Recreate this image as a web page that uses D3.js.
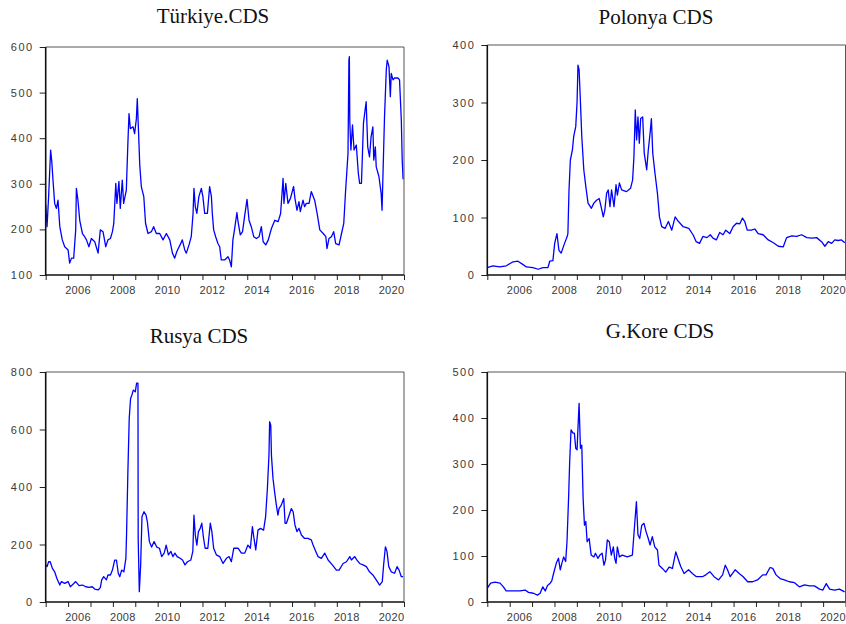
<!DOCTYPE html>
<html>
<head>
<meta charset="utf-8">
<script src="https://cdn.jsdelivr.net/npm/d3@7"></script>
<style>
  body { margin: 0; background: #fff; }
  .title { font-family: "Liberation Serif", "Times New Roman", serif; font-size: 21px; fill: #111; }
  .tick text { font-family: "Liberation Sans", Arial, sans-serif; font-size: 11px; fill: #3a3a3a; }
  .yaxis .tick text { letter-spacing: 1.5px; }
  .xlab .tick text { letter-spacing: 0.3px; }
  .tick line { stroke: #222; }
</style>
</head>
<body>
<svg id="chart" width="846" height="624"></svg>
<script>
// decimal year, CDS value (bps)
const turkiye = [
  [2005.0,254],[2005.06,206],[2005.13,272],[2005.22,374],[2005.27,350],[2005.33,305],[2005.40,257],[2005.48,246],
  [2005.55,264],[2005.63,206],[2005.74,177],[2005.85,162],[2006.0,155],[2006.07,126],[2006.15,137],[2006.25,137],
  [2006.34,199],[2006.37,290],[2006.44,264],[2006.52,220],[2006.64,191],[2006.74,184],[2006.82,177],[2006.93,162],
  [2007.04,180],[2007.19,173],[2007.34,148],[2007.44,199],[2007.56,195],[2007.68,162],[2007.78,177],[2007.89,180],
  [2007.98,195],[2008.04,213],[2008.13,301],[2008.18,257],[2008.27,305],[2008.33,246],[2008.42,308],[2008.48,257],
  [2008.60,286],[2008.67,389],[2008.72,454],[2008.78,421],[2008.90,425],[2008.97,410],[2009.05,443],[2009.09,487],
  [2009.15,408],[2009.20,341],[2009.27,294],[2009.38,272],[2009.46,213],[2009.57,191],[2009.72,195],[2009.82,206],
  [2009.94,191],[2010.09,191],[2010.24,177],[2010.39,191],[2010.54,177],[2010.66,148],[2010.76,137],[2010.86,152],
  [2011.0,166],[2011.10,177],[2011.21,155],[2011.28,148],[2011.40,166],[2011.50,184],[2011.58,235],[2011.62,290],
  [2011.68,250],[2011.75,235],[2011.84,272],[2011.95,290],[2012.02,272],[2012.10,235],[2012.22,235],[2012.32,294],
  [2012.40,272],[2012.44,235],[2012.50,199],[2012.59,184],[2012.69,169],[2012.77,162],[2012.84,133],[2012.99,133],
  [2013.14,140],[2013.21,133],[2013.29,118],[2013.36,177],[2013.43,199],[2013.54,237],[2013.58,220],[2013.69,188],
  [2013.79,195],[2013.88,228],[2013.99,266],[2014.08,220],[2014.18,206],[2014.29,184],[2014.41,180],[2014.53,184],
  [2014.63,206],[2014.71,173],[2014.83,166],[2014.94,177],[2015.08,202],[2015.23,220],[2015.38,217],[2015.49,235],
  [2015.60,312],[2015.64,257],[2015.72,301],[2015.82,257],[2015.93,268],[2016.07,294],[2016.13,268],[2016.22,242],
  [2016.31,261],[2016.37,239],[2016.49,264],[2016.56,250],[2016.64,257],[2016.76,257],[2016.86,283],[2017.01,264],
  [2017.12,235],[2017.24,199],[2017.39,191],[2017.51,184],[2017.56,158],[2017.65,180],[2017.76,184],[2017.86,195],
  [2017.95,169],[2018.10,166],[2018.21,191],[2018.31,213],[2018.39,283],[2018.50,367],[2018.54,571],[2018.56,579],
  [2018.58,436],[2018.63,374],[2018.70,429],[2018.77,374],[2018.87,385],[2018.96,323],[2019.02,301],[2019.10,301],
  [2019.19,433],[2019.28,469],[2019.31,480],[2019.38,381],[2019.46,359],[2019.53,403],[2019.61,425],[2019.65,352],
  [2019.72,381],[2019.76,337],[2019.88,316],[2019.98,279],[2020.02,242],[2020.07,337],[2020.13,447],[2020.21,550],
  [2020.25,571],[2020.33,557],[2020.39,491],[2020.43,542],[2020.51,528],[2020.58,532],[2020.73,532],[2020.80,528],
  [2020.88,440],[2020.92,352],[2020.96,310]
];

const polonya = [
  [2005.0,13],[2005.25,16],[2005.55,14],[2005.85,16],[2006.15,23],[2006.37,24],[2006.6,18],[2006.75,14],
  [2007.04,13],[2007.27,10],[2007.49,13],[2007.71,13],[2007.79,24],[2007.93,25],[2008.01,55],[2008.11,72],
  [2008.2,43],[2008.3,38],[2008.45,55],[2008.56,66],[2008.6,72],[2008.65,148],[2008.71,200],[2008.8,217],
  [2008.86,241],[2008.95,258],[2009.01,301],[2009.05,365],[2009.1,357],[2009.16,301],[2009.22,241],[2009.31,183],
  [2009.4,154],[2009.5,125],[2009.65,116],[2009.76,125],[2009.88,130],[2010.0,133],[2010.1,116],[2010.18,101],
  [2010.25,113],[2010.33,142],[2010.4,148],[2010.48,119],[2010.55,148],[2010.66,119],[2010.75,157],[2010.81,139],
  [2010.9,160],[2011.0,148],[2011.22,145],[2011.4,151],[2011.49,165],[2011.55,206],[2011.61,287],[2011.67,235],
  [2011.73,275],[2011.79,229],[2011.85,272],[2011.94,275],[2012.01,212],[2012.12,183],[2012.19,217],[2012.27,246],
  [2012.33,272],[2012.39,212],[2012.49,177],[2012.6,142],[2012.69,101],[2012.79,84],[2012.94,81],[2013.09,93],
  [2013.24,78],[2013.39,101],[2013.54,93],[2013.75,84],[2014.0,81],[2014.19,70],[2014.33,58],[2014.48,55],
  [2014.63,67],[2014.81,65],[2014.96,70],[2015.08,64],[2015.23,61],[2015.38,74],[2015.53,70],[2015.65,78],
  [2015.83,72],[2015.98,84],[2016.13,90],[2016.28,89],[2016.4,99],[2016.5,93],[2016.61,78],[2016.8,78],
  [2016.95,80],[2017.1,72],[2017.32,70],[2017.55,61],[2017.78,56],[2018.0,50],[2018.22,49],[2018.37,65],
  [2018.6,68],[2018.82,67],[2019.04,70],[2019.27,65],[2019.49,64],[2019.71,65],[2019.93,58],[2020.08,50],
  [2020.23,58],[2020.38,55],[2020.52,61],[2020.67,60],[2020.82,61],[2020.97,56]
];

const rusya = [
  [2005.0,129],[2005.06,123],[2005.13,140],[2005.2,140],[2005.3,117],[2005.4,105],[2005.5,82],[2005.63,59],
  [2005.7,71],[2005.85,65],[2006.0,71],[2006.1,53],[2006.22,62],[2006.34,71],[2006.49,57],[2006.64,59],
  [2006.79,53],[2006.93,51],[2007.08,53],[2007.19,45],[2007.34,42],[2007.44,50],[2007.5,77],[2007.59,88],
  [2007.71,77],[2007.78,94],[2007.89,94],[2007.98,111],[2008.08,146],[2008.16,146],[2008.24,100],[2008.31,88],
  [2008.39,111],[2008.49,105],[2008.58,152],[2008.61,233],[2008.67,453],[2008.73,639],[2008.79,708],[2008.85,720],
  [2008.91,737],[2009.0,731],[2009.06,761],[2009.12,761],[2009.13,221],[2009.18,36],[2009.24,129],[2009.3,297],
  [2009.39,314],[2009.48,302],[2009.54,279],[2009.63,210],[2009.73,191],[2009.84,210],[2009.96,191],[2010.08,187],
  [2010.18,158],[2010.29,170],[2010.38,198],[2010.48,164],[2010.59,176],[2010.68,158],[2010.77,170],[2010.87,158],
  [2011.0,152],[2011.11,146],[2011.22,129],[2011.33,140],[2011.48,146],[2011.57,176],[2011.62,302],[2011.68,233],
  [2011.75,198],[2011.82,245],[2011.9,256],[2011.97,274],[2012.05,221],[2012.12,187],[2012.24,187],[2012.35,274],
  [2012.42,245],[2012.5,187],[2012.62,164],[2012.77,158],[2012.92,134],[2013.07,152],[2013.19,158],[2013.29,140],
  [2013.4,187],[2013.59,187],[2013.74,170],[2013.89,170],[2014.03,198],[2014.14,187],[2014.23,262],[2014.29,227],
  [2014.38,181],[2014.48,250],[2014.59,256],[2014.73,250],[2014.82,297],[2014.9,395],[2014.97,511],[2015.0,627],
  [2015.05,615],[2015.08,511],[2015.15,430],[2015.23,378],[2015.3,337],[2015.37,302],[2015.42,325],[2015.52,337],
  [2015.63,360],[2015.69,274],[2015.75,274],[2015.87,302],[2015.97,325],[2016.05,314],[2016.13,268],[2016.22,245],
  [2016.31,256],[2016.42,233],[2016.56,221],[2016.71,221],[2016.86,216],[2016.94,198],[2017.06,176],[2017.16,158],
  [2017.31,152],[2017.46,170],[2017.61,146],[2017.8,129],[2017.98,111],[2018.1,111],[2018.28,134],[2018.43,140],
  [2018.58,158],[2018.65,146],[2018.8,158],[2018.9,146],[2019.02,134],[2019.17,129],[2019.32,123],[2019.46,105],
  [2019.61,94],[2019.76,77],[2019.91,59],[2020.03,71],[2020.09,129],[2020.17,192],[2020.24,176],[2020.32,123],
  [2020.43,105],[2020.58,100],[2020.69,123],[2020.78,111],[2020.88,88],[2020.96,88]
];

const gkore = [
  [2005.0,30],[2005.15,41],[2005.34,43],[2005.57,41],[2005.72,33],[2005.84,24],[2006.17,24],[2006.46,24],
  [2006.69,26],[2006.84,21],[2007.06,19],[2007.24,15],[2007.36,19],[2007.48,33],[2007.59,24],[2007.69,36],
  [2007.81,41],[2007.88,46],[2007.96,62],[2008.08,84],[2008.18,95],[2008.26,70],[2008.33,84],[2008.41,98],
  [2008.5,88],[2008.56,131],[2008.63,225],[2008.68,305],[2008.74,374],[2008.83,367],[2008.89,367],[2008.95,334],
  [2009.01,331],[2009.05,378],[2009.1,432],[2009.16,334],[2009.22,341],[2009.28,225],[2009.34,167],[2009.4,175],
  [2009.46,131],[2009.55,138],[2009.64,102],[2009.76,98],[2009.83,106],[2009.94,95],[2010.03,102],[2010.13,106],
  [2010.21,80],[2010.28,91],[2010.36,135],[2010.45,131],[2010.54,102],[2010.63,120],[2010.69,95],[2010.75,84],
  [2010.81,120],[2010.9,98],[2011.03,102],[2011.25,98],[2011.48,102],[2011.58,167],[2011.66,218],[2011.73,146],
  [2011.81,138],[2011.9,167],[2012.0,171],[2012.09,153],[2012.19,138],[2012.27,124],[2012.37,142],[2012.48,120],
  [2012.6,113],[2012.67,80],[2012.82,73],[2012.97,65],[2013.12,76],[2013.27,73],[2013.42,109],[2013.57,87],
  [2013.64,77],[2013.79,62],[2013.99,70],[2014.16,62],[2014.34,55],[2014.61,55],[2014.76,59],[2014.94,66],
  [2015.13,55],[2015.33,48],[2015.51,59],[2015.63,80],[2015.73,70],[2015.85,55],[2016.07,70],[2016.25,62],
  [2016.43,55],[2016.63,44],[2016.85,44],[2017.07,48],[2017.3,59],[2017.45,59],[2017.63,75],[2017.75,73],
  [2017.9,59],[2018.08,51],[2018.27,48],[2018.49,44],[2018.72,42],[2018.94,33],[2019.17,37],[2019.39,35],
  [2019.61,35],[2019.84,28],[2019.99,26],[2020.14,40],[2020.29,28],[2020.51,26],[2020.73,28],[2020.96,22]
];

const yearTicks = d3.range(2005, 2022);
const yearLabels = d3.range(2006, 2021, 2);

const panels = [
  { title: "Türkiye.CDS", data: turkiye, yDomain: [100, 600], yTicks: d3.range(100, 601, 100),
    x0: 45.7, x1: 404, y0: 47, y1: 275, tx: 213, ty: 23 },
  { title: "Polonya CDS", data: polonya, yDomain: [0, 400], yTicks: d3.range(0, 401, 100),
    x0: 487.3, x1: 845.5, y0: 45, y1: 275, tx: 656, ty: 24 },
  { title: "Rusya CDS", data: rusya, yDomain: [0, 800], yTicks: d3.range(0, 801, 200),
    x0: 45.7, x1: 404, y0: 372, y1: 602, tx: 199, ty: 343 },
  { title: "G.Kore CDS", data: gkore, yDomain: [0, 500], yTicks: d3.range(0, 501, 100),
    x0: 487.3, x1: 845.5, y0: 372, y1: 602, tx: 660, ty: 338 }
];

const svg = d3.select("#chart");

panels.forEach(p => {
  const x = d3.scaleLinear().domain([2005, 2021]).range([p.x0, p.x1]);
  const y = d3.scaleLinear().domain(p.yDomain).range([p.y1, p.y0]);
  const g = svg.append("g");

  g.append("text")
    .attr("class", "title")
    .attr("x", p.tx)
    .attr("y", p.ty)
    .attr("text-anchor", "middle")
    .text(p.title);

  // year tick marks
  g.append("g")
    .attr("transform", `translate(0,${p.y1})`)
    .call(d3.axisBottom(x).tickValues(yearTicks).tickSize(5).tickFormat(""))
    .call(a => a.select(".domain").remove());

  // year labels sit near the middle of the year
  g.append("g")
    .attr("class", "xlab")
    .attr("transform", `translate(0,${p.y1})`)
    .call(d3.axisBottom(x).tickValues(yearLabels.map(v => v + 0.42)).tickSize(0).tickPadding(11)
      .tickFormat(v => Math.floor(v)))
    .call(a => a.select(".domain").remove());

  g.append("g")
    .attr("class", "yaxis")
    .attr("transform", `translate(${p.x0},0)`)
    .call(d3.axisLeft(y).tickValues(p.yTicks).tickSize(6).tickPadding(6))
    .call(a => a.select(".domain").remove());

  g.append("path")
    .datum(p.data)
    .attr("fill", "none")
    .attr("stroke", "#0000ff")
    .attr("stroke-width", 1.3)
    .attr("stroke-linejoin", "round")
    .attr("d", d3.line().x(d => x(d[0])).y(d => y(d[1])));

  // frame: left and bottom heavier, top and right lighter
  g.append("path")
    .attr("fill", "none")
    .attr("stroke", "#555")
    .attr("stroke-width", 1)
    .attr("d", `M${p.x0},${p.y0}H${p.x1}V${p.y1}`);
  g.append("path")
    .attr("fill", "none")
    .attr("stroke", "#111")
    .attr("stroke-width", 1.6)
    .attr("d", `M${p.x0},${p.y0}V${p.y1}H${p.x1}`);
});
</script>
</body>
</html>
